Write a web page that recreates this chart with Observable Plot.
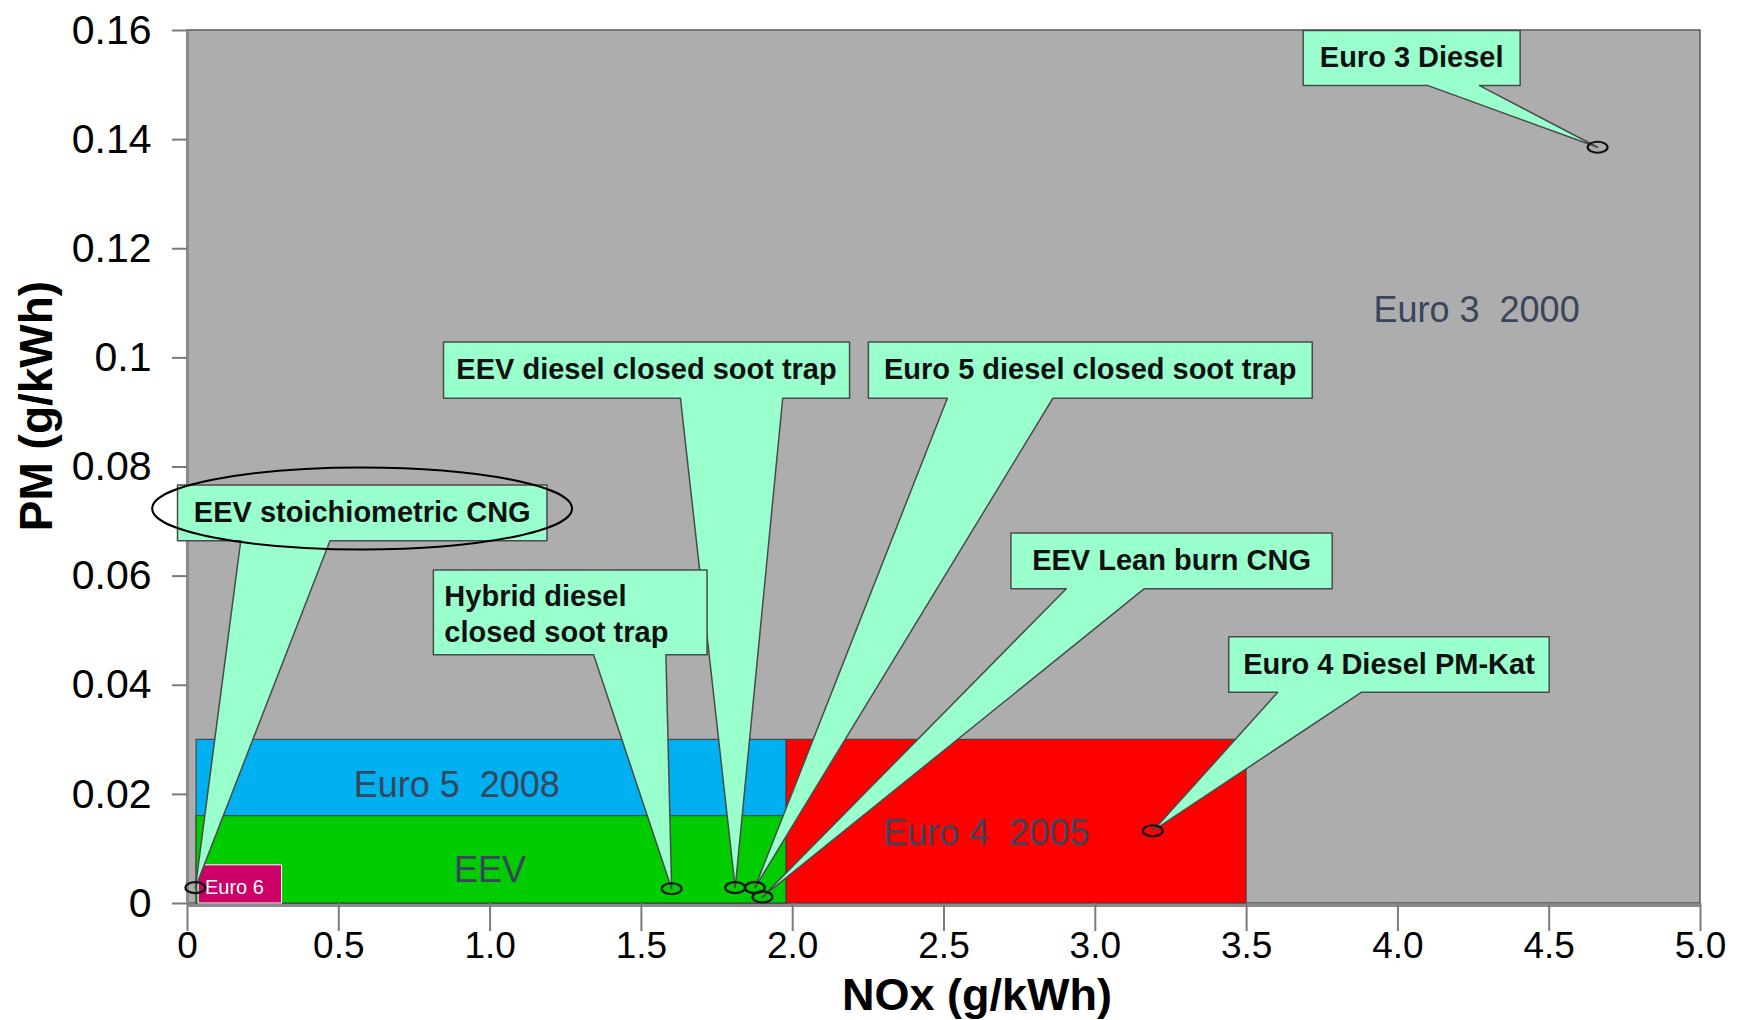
<!DOCTYPE html>
<html><head><meta charset="utf-8">
<script src="https://cdn.jsdelivr.net/npm/d3@7"></script>
<script src="https://cdn.jsdelivr.net/npm/@observablehq/plot@0.6"></script>
<style>html,body{margin:0;padding:0;background:#fff;overflow:hidden}</style>
</head><body><div id="chart"></div>
<script>
// ---- Emission limit regions (NOx g/kWh, PM g/kWh) ----
const regionNames  = ["Euro 3  2000", "Euro 5  2008", "EEV", "Euro 4  2005", "Euro 6"];
const regionNoxLo  = [0,     0.03,  0.03,  1.98, 0.037];
const regionNoxHi  = [5.0,   1.98,  1.98,  3.5,  0.3125];
const regionPmLo   = [0,     0,     0,     0,    0];
const regionPmHi   = [0.16,  0.03,  0.016, 0.03, 0.007];
const regionColors = ["#adadad", "#00b0f0", "#00cc00", "#ff0000", "#cc0066"];
const regionLabelNox = [4.26, 0.89, 1.0,   2.64,  0.155];
const regionLabelPm  = [0.1086, 0.0217, 0.0061, 0.0129, 0.003];

// ---- Measured vehicles ----
const vehicleNames = ["Euro 3 Diesel", "EEV diesel closed soot trap", "Euro 5 diesel closed soot trap",
  "EEV stoichiometric CNG", "Hybrid diesel\nclosed soot trap", "EEV Lean burn CNG", "Euro 4 Diesel PM-Kat"];
const vehicleNox = [4.66, 1.81, 1.875, 0.026, 1.60, 1.90, 3.19];
const vehiclePm  = [0.1386, 0.0029, 0.0029, 0.0029, 0.0027, 0.0012, 0.0133];

// ---- Callout boxes (in NOx / PM units) ----
const calloutNoxLo  = [3.687, 0.846, 2.25,  -0.033, 0.8125, 2.721, 3.441];
const calloutNoxHi  = [4.404, 2.188, 3.717, 1.188,  1.717,  3.783, 4.5];
const calloutPmTop  = [0.16,  0.1029, 0.1029, 0.0767, 0.0611, 0.0679, 0.0489];
const calloutPmBot  = [0.1499, 0.0926, 0.0926, 0.0665, 0.0456, 0.0577, 0.0387];
const pointerNoxLo  = [4.10,  1.629, 2.511, 0.176, 1.342, 2.904, 3.603];
const pointerNoxHi  = [4.27,  1.967, 2.860, 0.471, 1.581, 3.162, 3.879];

// highlighted callout (ellipse)
const highlightNox = [0.577];
const highlightPm  = [0.0724];

// ---- Axes ----
const xTicks = [0, 0.5, 1, 1.5, 2, 2.5, 3, 3.5, 4, 4.5, 5];
const xTickLabels = ["0", "0.5", "1.0", "1.5", "2.0", "2.5", "3.0", "3.5", "4.0", "4.5", "5.0"];
const yTicks = [0, 0.02, 0.04, 0.06, 0.08, 0.1, 0.12, 0.14, 0.16];
const yTickLabels = ["0", "0.02", "0.04", "0.06", "0.08", "0.1", "0.12", "0.14", "0.16"];
const xLabel = "NOx (g/kWh)";
const yLabel = "PM (g/kWh)";

// ---- tables built from arrays ----
const regions = regionNames.map((name, i) => ({
  name, x1: regionNoxLo[i], x2: regionNoxHi[i], y1: regionPmLo[i], y2: regionPmHi[i],
  color: regionColors[i], lx: regionLabelNox[i], ly: regionLabelPm[i]
}));
const vehicles = vehicleNames.map((name, i) => ({name, x: vehicleNox[i], y: vehiclePm[i]}));
const callouts = vehicleNames.map((name, i) => ({
  name, x1: calloutNoxLo[i], x2: calloutNoxHi[i], top: calloutPmTop[i], bot: calloutPmBot[i],
  b1: pointerNoxLo[i], b2: pointerNoxHi[i], tx: vehicleNox[i], ty: vehiclePm[i]
}));
const calloutPath = callouts.flatMap((c, i) => [
  [c.x1, c.top], [c.x2, c.top], [c.x2, c.bot], [c.b2, c.bot], [c.tx, c.ty], [c.b1, c.bot], [c.x1, c.bot]
].map(([x, y]) => ({id: i, x, y})));

function ellipseSymbol(ax, ay) {
  return {draw(ctx, size) {
    const r = Math.sqrt(size / Math.PI);
    const rx = r * ax, ry = r * ay, k = 0.5522847498;
    ctx.moveTo(rx, 0);
    ctx.bezierCurveTo(rx, ry * k, rx * k, ry, 0, ry);
    ctx.bezierCurveTo(-rx * k, ry, -rx, ry * k, -rx, 0);
    ctx.bezierCurveTo(-rx, -ry * k, -rx * k, -ry, 0, -ry);
    ctx.bezierCurveTo(rx * k, -ry, rx, -ry * k, rx, 0);
    ctx.closePath();
  }};
}

const font = "Liberation Sans, Arial, sans-serif";
const bg = regions.slice(0, 1), inner = regions.slice(1);

const chart = Plot.plot({
  width: 1742, height: 1020,
  marginLeft: 187, marginRight: 42, marginTop: 30, marginBottom: 117,
  style: {fontFamily: font, background: "#fff", color: "#000"},
  x: {domain: [0, 5]},
  y: {domain: [0, 0.16]},
  marks: [
    Plot.rect(bg, {x1: "x1", x2: "x2", y1: "y1", y2: "y2", fill: "color", stroke: "#5a5a5a", strokeWidth: 1.5}),
    Plot.rect(inner, {x1: "x1", x2: "x2", y1: "y1", y2: "y2", fill: "color",
      stroke: d => d.name === "Euro 6" ? "#ffffff" : "#3a3a3a", strokeWidth: 1}),
    Plot.text(regions.slice(0, 4), {x: "lx", y: "ly", text: "name", fill: "#39455a", fontSize: 36}),
    Plot.text(regions.slice(4), {x: "lx", y: "ly", text: "name", fill: "#ffffff", fontSize: 20}),
    Plot.ruleX([0], {stroke: "#8a8a8a", strokeWidth: 3}),
    Plot.ruleY([0], {stroke: "#8a8a8a", strokeWidth: 3, dy: 2}),
    Plot.axisY({ticks: yTicks, tickFormat: (d, i) => yTickLabels[i], tickSize: 15, tickPadding: 21,
      fontSize: 41, stroke: "#7a7a7a", strokeWidth: 2, label: null}),
    Plot.axisX({ticks: xTicks, tickFormat: (d, i) => xTickLabels[i], tickSize: 28, tickPadding: 0,
      fontSize: 37, stroke: "#7a7a7a", strokeWidth: 2, label: null}),
    Plot.line(calloutPath, {x: "x", y: "y", z: "id", curve: "linear-closed",
      fill: "#99ffcc", stroke: "#4a4a4a", strokeWidth: 1.5}),
    Plot.text(callouts.filter(c => !c.name.includes("\n")), {x: d => (d.x1 + d.x2) / 2, y: d => (d.top + d.bot) / 2,
      text: "name", fontWeight: "bold", fontSize: 29, fill: "#111"}),
    Plot.text(callouts.filter(c => c.name.includes("\n")), {x: "x1", y: d => (d.top + d.bot) / 2,
      text: "name", textAnchor: "start", dx: 11, lineHeight: 1.25, fontWeight: "bold", fontSize: 29, fill: "#111"}),
    Plot.dot(highlightNox.map((x, i) => ({x, y: highlightPm[i]})), {x: "x", y: "y", r: 41,
      symbol: ellipseSymbol(5.12, 1), fill: "none", stroke: "#000", strokeWidth: 2}),
    Plot.dot(vehicles, {x: "x", y: "y", r: 5.5, symbol: ellipseSymbol(1.8, 1), fill: "none", stroke: "#111", strokeWidth: 2.2}),
    Plot.text([xLabel], {frameAnchor: "bottom", dx: 33, dy: 106, fontSize: 45, fontWeight: "bold"}),
    Plot.text([yLabel], {frameAnchor: "left", textAnchor: "middle", rotate: -90, dx: -150, dy: -61, fontSize: 46, fontWeight: "bold"})
  ]
});
document.getElementById("chart").appendChild(chart);
</script>
</body></html>
